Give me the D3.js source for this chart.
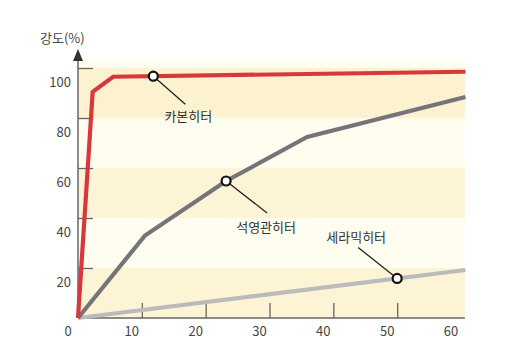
<!DOCTYPE html>
<html><head><meta charset="utf-8">
<script src="https://cdn.jsdelivr.net/npm/d3@7"></script>
<style>body{margin:0;background:#fff;} text{font-family:"Noto Sans CJK KR","Noto Sans",sans-serif;}</style>
</head><body><svg id="c" width="524" height="360"></svg>
<script>
const xTicks = [0, 10, 20, 30, 40, 50, 60];
const yTicks = [20, 40, 60, 80, 100];
const bandEdges = [0, 20, 40, 60, 80, 100];
const carbonX = [0, 2.3, 5.5, 60.7];
const carbonY = [0, 90.5, 96.5, 98.5];
const quartzX = [0, 10.5, 23.2, 35.9, 60.7];
const quartzY = [0, 33, 54.8, 72.4, 88.4];
const ceramicX = [0, 60.7];
const ceramicY = [0, 19.2];
const seriesNames = ["카본히터", "석영관히터", "세라믹히터"];
const markerX = [11.8, 23.2, 50];
const yTitle = "강도(%)";

const svg = d3.select("#c");
const x = d3.scaleLinear().domain([0, 60]).range([78, 461]);
const y = d3.scaleLinear().domain([0, 100]).range([318, 68]);
const xEnd = x(60.6);

// bands
const bandCols = ["#fdf4d6", "#fffcf0", "#fdf4d6", "#fffcf0", "#fcf2d0"];
for (let i = 0; i < bandEdges.length - 1; i++) {
  svg.append("rect").attr("x", x(0)).attr("width", xEnd - x(0))
    .attr("y", y(bandEdges[i + 1])).attr("height", y(bandEdges[i]) - y(bandEdges[i + 1]))
    .attr("fill", bandCols[i]);
}
svg.append("rect").attr("x", x(0)).attr("width", xEnd - x(0))
  .attr("y", y(103)).attr("height", y(100) - y(103)).attr("fill", "#fffcf0");

// axes
const axisCol = "#666";
svg.append("line").attr("x1", x(0)).attr("x2", xEnd).attr("y1", y(0)).attr("y2", y(0))
  .attr("stroke", axisCol).attr("stroke-width", 1.5);
svg.append("line").attr("x1", x(0)).attr("x2", x(0)).attr("y1", y(0)).attr("y2", 58)
  .attr("stroke", axisCol).attr("stroke-width", 1.5);
svg.append("path").attr("d", `M${x(0)},49 L${x(0) - 5},61 L${x(0) + 5},61 Z`).attr("fill", "#333");

const xAxis = d3.axisTop(x).tickValues(xTicks.slice(1, 6)).tickSize(15).tickFormat("");
const gx = svg.append("g").attr("transform", `translate(0,${y(0)})`).call(xAxis);
gx.select(".domain").remove();
gx.selectAll(".tick line").attr("stroke", axisCol).attr("stroke-width", 1.3);

const yAxis = d3.axisRight(y).tickValues(yTicks).tickSize(15).tickFormat("");
const gy = svg.append("g").attr("transform", `translate(${x(0)},0)`).call(yAxis);
gy.select(".domain").remove();
gy.selectAll(".tick line").attr("stroke", axisCol).attr("stroke-width", 1.3);

// labels
svg.selectAll(".xl").data(xTicks).enter().append("text")
  .attr("x", d => x(d) - 10).attr("y", 336).attr("text-anchor", "middle")
  .attr("font-size", 13).attr("fill", "#444").text(d => d);
svg.selectAll(".yl").data(yTicks).enter().append("text")
  .attr("x", 71).attr("y", d => y(d) + 19).attr("text-anchor", "end")
  .attr("font-size", 13).attr("fill", "#444").text(d => d);
svg.append("text").attr("x", 40).attr("y", 43).attr("font-size", 13).attr("fill", "#444").text(yTitle);

// lines
const line = d3.line().x(d => x(d[0])).y(d => y(d[1]));
const zip = (a, b) => a.map((v, i) => [v, b[i]]);
const series = [
  { xs: carbonX, ys: carbonY, col: "#d8383c" },
  { xs: quartzX, ys: quartzY, col: "#747479" },
  { xs: ceramicX, ys: ceramicY, col: "#bbbbbd" }
];
series.slice().reverse().forEach(s => {
  svg.append("path").attr("d", line(zip(s.xs, s.ys))).attr("fill", "none")
    .attr("stroke", s.col).attr("stroke-width", 4.2).attr("stroke-linejoin", "miter");
});

// annotations
function interp(xs, ys, v) {
  for (let i = 0; i < xs.length - 1; i++) {
    if (v >= xs[i] && v <= xs[i + 1]) return ys[i] + (ys[i + 1] - ys[i]) * (v - xs[i]) / (xs[i + 1] - xs[i]);
  }
  return ys[ys.length - 1];
}
const ann = [
  { dx: 32, dy: 28, tx: 35, ty: 45 },
  { dx: 41, dy: 32, tx: 40, ty: 51 },
  { dx: -39, dy: -31, tx: -41, ty: -36 }
];
series.forEach((s, i) => {
  const px = x(markerX[i]), py = y(interp(s.xs, s.ys, markerX[i]));
  const a = ann[i];
  svg.append("line").attr("x1", px).attr("y1", py).attr("x2", px + a.dx).attr("y2", py + a.dy)
    .attr("stroke", "#222").attr("stroke-width", 1.3);
  svg.append("circle").attr("cx", px).attr("cy", py).attr("r", 4.5)
    .attr("fill", "#fff").attr("stroke", "#111").attr("stroke-width", 2.2);
  svg.append("text").attr("x", px + a.tx).attr("y", py + a.ty).attr("text-anchor", "middle")
    .attr("font-size", 13).attr("fill", "#333").text(seriesNames[i]);
});
</script></body></html>
